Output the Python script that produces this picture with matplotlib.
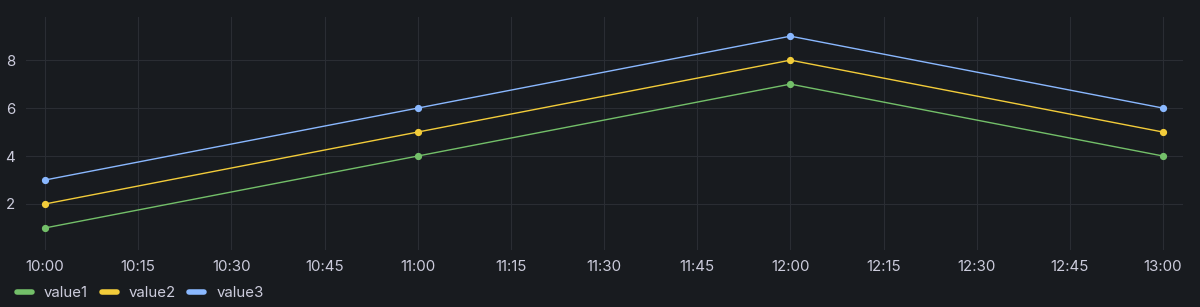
import numpy as np
import pandas as pd
import matplotlib
matplotlib.use("Agg")
import matplotlib.pyplot as plt
import matplotlib.dates as mdates
from matplotlib.lines import Line2D

times = pd.to_datetime(["2024-01-01 10:00", "2024-01-01 11:00",
                        "2024-01-01 12:00", "2024-01-01 13:00"])
value1 = [1, 4, 7, 4]
value2 = [2, 5, 8, 5]
value3 = [3, 6, 9, 6]
series_names = ["value1", "value2", "value3"]
colors = ["#73bf69", "#f2cc3a", "#8ab8ff"]

bg = "#181b1f"
fg = "#ccccdc"
grid = "#2a2d33"

plt.rcParams['font.family'] = ['Inter', 'DejaVu Sans']

fig = plt.figure(figsize=(12, 3.07), dpi=100, facecolor=bg)
ax = fig.add_axes([26 / 1200, 1 - 250 / 307, (1183 - 26) / 1200, (250 - 17) / 307])
ax.set_facecolor(bg)

for vals, name, c in zip([value1, value2, value3], series_names, colors):
    ax.plot(times, vals, color=c, lw=1.0, marker="o", ms=4.2, label=name, zorder=3)

t0 = times[0]
ax.set_xlim(t0 - pd.Timedelta(minutes=3.06), times[-1] + pd.Timedelta(minutes=3.2))
ax.set_ylim(0.08, 9.8)
ax.set_yticks([2, 4, 6, 8])
ax.xaxis.set_major_locator(mdates.MinuteLocator(byminute=[0, 15, 30, 45]))
ax.xaxis.set_major_formatter(mdates.DateFormatter("%H:%M"))

ax.grid(True, color=grid, lw=0.8)
for s in ax.spines.values():
    s.set_visible(False)
ax.tick_params(length=0, colors=fg, labelsize=10.8)
ax.tick_params(axis="y", pad=8)
ax.tick_params(axis="x", pad=7)

handles = [Line2D([], [], color=c, lw=4, solid_capstyle="round") for c in colors]
fig.legend(handles, series_names, loc="center left", bbox_to_anchor=(0.003, 1 - 293 / 307),
           ncol=3, frameon=False, labelcolor=fg, fontsize=10.8,
           handlelength=1.0, handletextpad=0.8, columnspacing=0.9)

fig.savefig("out.png", dpi=100, facecolor=bg)
